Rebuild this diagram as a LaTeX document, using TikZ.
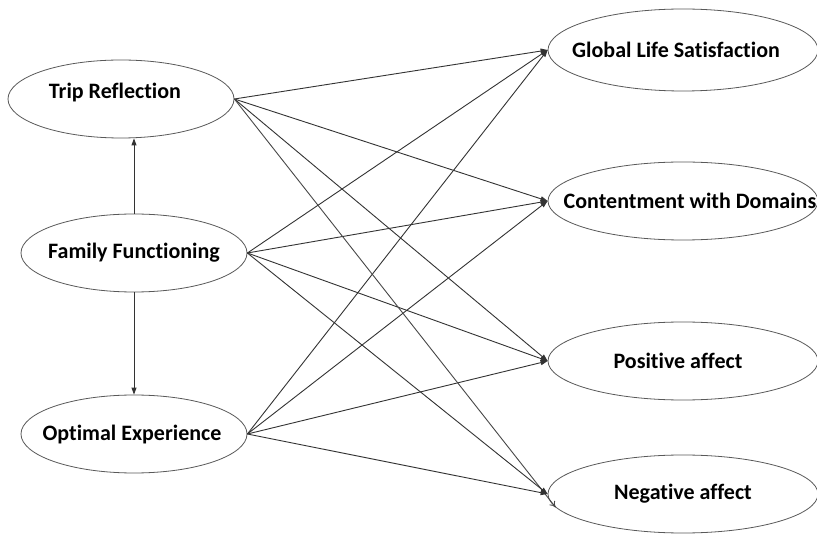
\documentclass[tikz,border=0pt]{standalone}
\usepackage{fontspec}
\setmainfont{Carlito}[Ligatures=NoCommon]
\usetikzlibrary{shapes.geometric,arrows.meta}
\begin{document}
\begin{tikzpicture}[x=1pt,y=-1pt,
  construct/.style={ellipse,draw=black!65,line width=0.8pt,inner sep=0pt},
  leftvar/.style={construct,minimum width=226pt,minimum height=78pt},
  rightvar/.style={construct,minimum width=270pt,minimum height=78pt},
  caption/.style={font=\fontsize{22}{24}\selectfont\bfseries,inner sep=0pt},
  arr/.style={draw=black!80,line width=0.9pt,-{Triangle[length=7pt,width=5pt]}},
  openarr/.style={draw=black!72,line width=0.9pt,-{To[length=6pt,width=7pt]}}]
\useasboundingbox (0,0) rectangle (817,534);
\fill[white] (0,0) rectangle (817,534);

% exogenous constructs on the left
\node[leftvar] (trip) at (121,99) {};
\node[leftvar] (fam)  at (134,253) {};
\node[leftvar] (opt)  at (134,434) {};
\node[caption] (tripT) at (115,93) {Trip Reflection};
\node[caption] (famT)  at (134,253) {Family Functioning};
\node[caption] (optT)  at (132,435) {Optimal Experience};

% outcome constructs on the right
\node[rightvar,minimum height=82pt] (gls) at (683,50) {};
\node[rightvar] (cwd) at (683,201) {};
\node[rightvar] (pos) at (683,361) {};
\node[rightvar] (neg) at (683,494) {};
\node[caption] (glsT) at (676,50) {Global Life Satisfaction};
\node[caption] (cwdT) at (690,201) {Contentment with Domains};
\node[caption] (posT) at (678,361) {Positive affect};
\node[caption] (negT) at (683,494) {Negative affect};

% paths between the left constructs
\draw[arr] (fam.north) -- (fam.north |- trip.south);
\draw[arr] (fam.south) -- (opt.north);

% paths to the outcomes
\foreach \s in {trip,fam,opt}{
  \draw[arr] (\s.east) -- (gls.west);
  \draw[arr] (\s.east) -- (cwd.west);
  \draw[arr] (\s.east) -- (pos.west);
}
\draw[openarr] (trip.east) -- (neg.186);
\draw[arr] (fam.east) -- (neg.west);
\draw[arr] (opt.east) -- (neg.west);
\end{tikzpicture}
\end{document}
